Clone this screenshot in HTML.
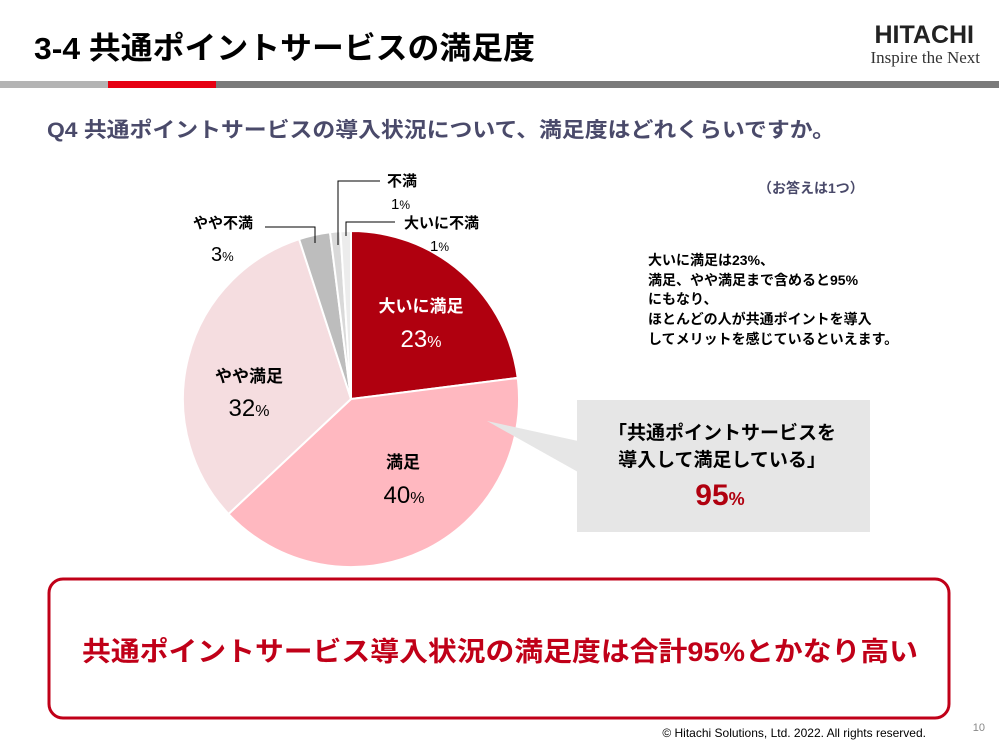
<!DOCTYPE html>
<html><head><meta charset="utf-8"><style>
body{margin:0;background:#fff;}
svg{display:block;font-family:"Liberation Sans","Noto Sans CJK JP",sans-serif;}
</style></head><body>
<svg width="999" height="745" viewBox="0 0 999 745" xmlns="http://www.w3.org/2000/svg">
<text x="34" y="59" font-size="31" font-weight="bold" fill="#000" textLength="501" lengthAdjust="spacingAndGlyphs">3-4  共通ポイントサービスの満足度</text>
<text x="974" y="43" font-size="25" font-weight="bold" text-anchor="end" fill="#222" font-family="Liberation Sans, sans-serif">HITACHI</text>
<text x="980" y="63" font-size="17" text-anchor="end" fill="#333" font-family="Liberation Serif, serif">Inspire the Next</text>
<rect x="0" y="81" width="108" height="7" fill="#b4b4b4"/>
<rect x="108" y="81" width="108" height="7" fill="#e60012"/>
<rect x="216" y="81" width="783" height="7" fill="#7a7a7a"/>
<text x="47" y="137" font-size="21" font-weight="bold" fill="#4a4a6a" textLength="788" lengthAdjust="spacingAndGlyphs">Q4  共通ポイントサービスの導入状況について、満足度はどれくらいですか。</text>
<text x="758" y="193" font-size="14" font-weight="bold" fill="#4a4a6a">（お答えは1つ）</text>

<g stroke="#fff" stroke-width="2">
<path d="M351,399 L351,231 A168,168 0 0 1 517.7,377.9 Z" fill="#b0000f"/>
<path d="M351,399 L517.7,377.9 A168,168 0 0 1 228.5,514 Z" fill="#ffb8c0"/>
<path d="M351,399 L228.5,514 A168,168 0 0 1 299.1,239.2 Z" fill="#f5dde0"/>
<path d="M351,399 L299.1,239.2 A168,168 0 0 1 330,232.3 Z" fill="#bdbdbd"/>
<path d="M351,399 L330,232.3 A168,168 0 0 1 340.4,231.3 Z" fill="#d9d9d9"/>
<path d="M351,399 L340.4,231.3 A168,168 0 0 1 351,231 Z" fill="#ececec"/>
</g>
<g stroke="#000" stroke-width="1" fill="none">
<polyline points="265,227 315,227 315,243"/>
<polyline points="380,181 338,181 338,245"/>
<polyline points="395,222 346,222 346,236"/>
</g>
<g font-weight="bold" font-size="15" fill="#000">
<text x="193" y="228">やや不満</text>
<text x="387" y="186">不満</text>
<text x="404" y="228">大いに不満</text>
</g>
<g font-size="15" fill="#000">
<text x="211" y="261"><tspan font-size="20">3</tspan><tspan font-size="13">%</tspan></text>
<text x="391" y="209">1<tspan font-size="12">%</tspan></text>
<text x="430" y="251">1<tspan font-size="12">%</tspan></text>
</g>
<text x="421" y="312" font-size="17" font-weight="bold" fill="#fff" text-anchor="middle">大いに満足</text>
<text x="421" y="347" font-size="24" fill="#fff" text-anchor="middle">23<tspan font-size="16">%</tspan></text>
<text x="249" y="382" font-size="17" font-weight="bold" text-anchor="middle">やや満足</text>
<text x="249" y="416" font-size="24" text-anchor="middle">32<tspan font-size="16">%</tspan></text>
<text x="403" y="468" font-size="17" font-weight="bold" text-anchor="middle">満足</text>
<text x="404" y="503" font-size="24" text-anchor="middle">40<tspan font-size="16">%</tspan></text>

<g font-size="14" font-weight="bold" fill="#000">
<text x="648" y="265">大いに満足は23%、</text>
<text x="648" y="285">満足、やや満足まで含めると95%</text>
<text x="648" y="304">にもなり、</text>
<text x="648" y="324">ほとんどの人が共通ポイントを導入</text>
<text x="648" y="344">してメリットを感じているといえます。</text>
</g>

<polygon points="487,421 578,441 578,472" fill="#e6e6e6"/>
<rect x="577" y="400" width="293" height="132" fill="#e6e6e6"/>
<text x="722" y="439" font-size="19" font-weight="bold" text-anchor="middle">「共通ポイントサービスを</text>
<text x="722" y="466" font-size="19" font-weight="bold" text-anchor="middle">導入して満足している」</text>
<text x="720" y="505" font-size="30" font-weight="bold" fill="#b0000f" text-anchor="middle">95<tspan font-size="18">%</tspan></text>

<rect x="49" y="579" width="900" height="139" rx="14" fill="#fff" stroke="#c00018" stroke-width="3"/>
<text x="82" y="661" font-size="27" font-weight="bold" fill="#c00018" textLength="836" lengthAdjust="spacingAndGlyphs">共通ポイントサービス導入状況の満足度は合計95%とかなり高い</text>

<text x="926" y="737" font-size="12" text-anchor="end" fill="#000">© Hitachi Solutions, Ltd. 2022. All rights reserved.</text>
<text x="985" y="731" font-size="11" text-anchor="end" fill="#888">10</text>
</svg>
</body></html>
